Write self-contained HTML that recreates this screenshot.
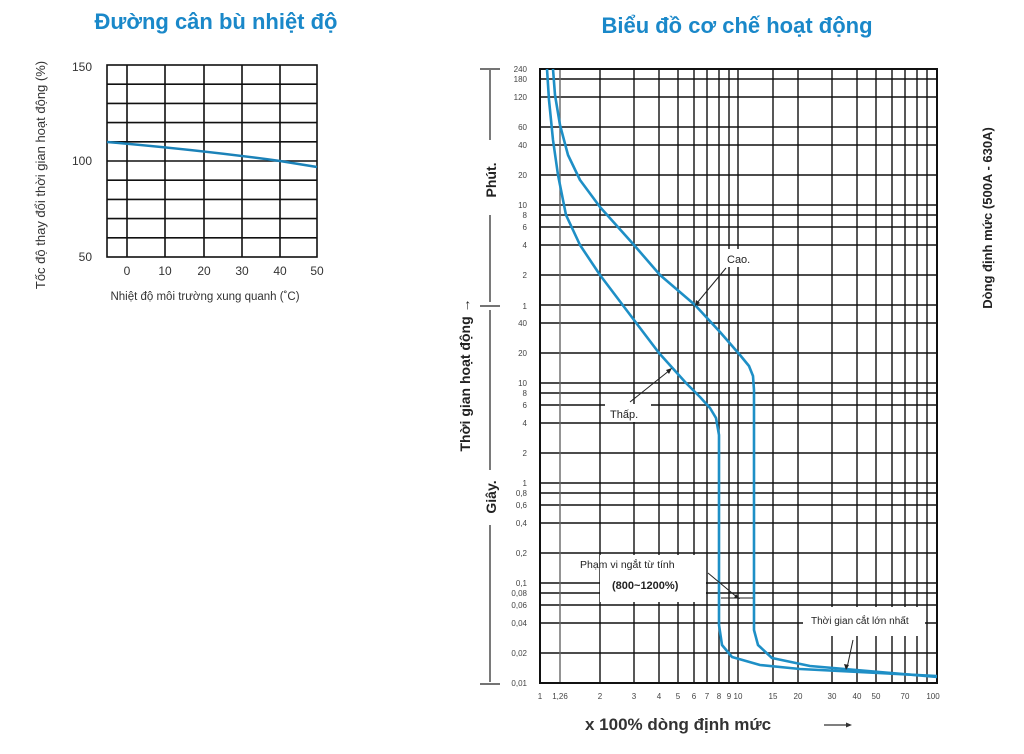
<!DOCTYPE html>
<html><head><meta charset="utf-8"><style>
body{margin:0;background:#fff;}
svg{display:block;font-family:"Liberation Sans",sans-serif;}
</style></head><body>
<svg width="1024" height="754" viewBox="0 0 1024 754" xmlns="http://www.w3.org/2000/svg">
<text x="216" y="29" font-size="22" font-weight="bold" fill="#1a88c9" text-anchor="middle">Đường cân bù nhiệt độ</text>
<text x="737" y="33" font-size="22" font-weight="bold" fill="#1a88c9" text-anchor="middle">Biểu đồ cơ chế hoạt động</text>

<g stroke="#111" stroke-width="1.6" fill="none">
<rect x="107" y="65" width="210" height="192"/>
<path d="M127 65V257M165 65V257M204 65V257M242 65V257M280 65V257"/>
<path d="M107 84.2H317M107 103.4H317M107 122.6H317M107 141.8H317M107 161H317M107 180.2H317M107 199.4H317M107 218.6H317M107 237.8H317"/>
</g>
<path d="M107 142 Q200 150 280 161 L317 167" stroke="#1b82b8" stroke-width="2.5" fill="none"/>
<g font-size="12" fill="#333" text-anchor="end">
<text x="92" y="71">150</text><text x="92" y="165">100</text><text x="92" y="261">50</text>
</g>
<g font-size="12" fill="#333" text-anchor="middle">
<text x="127" y="275">0</text><text x="165" y="275">10</text><text x="204" y="275">20</text><text x="242" y="275">30</text><text x="280" y="275">40</text><text x="317" y="275">50</text>
</g>
<text x="205" y="300" font-size="11.5" fill="#333" text-anchor="middle">Nhiệt độ môi trường xung quanh (˚C)</text>
<text transform="translate(45,175) rotate(-90)" font-size="13" fill="#333" text-anchor="middle">Tốc độ thay đổi thời gian hoạt động (%)</text>

<g stroke="#111" stroke-width="1.4" fill="none">
<path d="M540 683H937M540 653H937M540 623H937M540 605H937M540 593H937M540 583H937M540 553H937M540 523H937M540 505H937M540 493H937M540 483H937M540 453H937M540 423H937M540 405H937M540 393H937M540 383H937M540 353H937M540 323H937M540 305H937M540 275H937M540 245H937M540 227H937M540 215H937M540 205H937M540 175H937M540 145H937M540 127H937M540 97H937M540 79H937"/>
<path d="M600 69V683M634 69V683M659 69V683M678 69V683M694 69V683M707 69V683M719 69V683M729 69V683M738 69V683M773 69V683M798 69V683M832 69V683M857 69V683M876 69V683M892 69V683M905 69V683M917 69V683M927 69V683"/>
<path d="M560 69V683" stroke="#666"/>
<rect x="540" y="69" width="397" height="614" stroke-width="2"/>
</g>
<rect x="600" y="555" width="106" height="47" fill="#fff"/>
<rect x="803" y="607" width="122" height="29" fill="#fff"/>
<rect x="605" y="404" width="46" height="18" fill="#fff"/>
<rect x="722" y="249" width="40" height="18" fill="#fff"/>

<g stroke="#1e8fc6" stroke-width="2.6" fill="none" stroke-linejoin="round">
<polyline points="547,69 549,100 553,140 558,175 566,215 580,245 600,275 634,320 659,353 686,383 700,397 710,408 716,418 719,435 719,625 722,645 732,657 760,665 800,669 937,676"/>
<polyline points="553,69 555,95 560,125 568,155 580,180 600,207 634,245 660,275 695,305 720,332 740,355 749,366 753,376 754,390 754,630 758,645 772,658 810,666 937,677"/>
</g>

<g font-size="11" fill="#222">
<text x="727" y="263">Cao.</text>
<text x="610" y="418">Thấp.</text>
<text x="580" y="568" font-size="10.5">Phạm vi ngắt từ tính</text>
<text x="612" y="589" font-size="11" font-weight="bold">(800~1200%)</text>
<text x="811" y="624" font-size="10">Thời gian cắt lớn nhất</text>
</g>
<g stroke="#222" stroke-width="1" fill="none">
<path d="M726 268L697 303"/><path d="M630 402L670 370"/>
<path d="M708 573L738 598"/><path d="M721 598H753"/>
<path d="M853 640L847 668"/>
</g>
<g fill="#222">
<path d="M695 306l1-6 4 3z"/><path d="M672 368l-6 2 3 4z"/><path d="M740 599l-6-1 2-4z"/><path d="M846 670l-2-6 5 1z"/>
</g>

<g font-size="8" fill="#444" text-anchor="end">
<text x="527" y="72">240</text><text x="527" y="82">180</text><text x="527" y="100">120</text><text x="527" y="130">60</text><text x="527" y="148">40</text><text x="527" y="178">20</text><text x="527" y="208">10</text><text x="527" y="218">8</text><text x="527" y="230">6</text><text x="527" y="248">4</text><text x="527" y="278">2</text><text x="527" y="309">1</text>
<text x="527" y="326">40</text><text x="527" y="356">20</text><text x="527" y="386">10</text><text x="527" y="396">8</text><text x="527" y="408">6</text><text x="527" y="426">4</text><text x="527" y="456">2</text><text x="527" y="486">1</text><text x="527" y="496">0,8</text><text x="527" y="508">0,6</text><text x="527" y="526">0,4</text><text x="527" y="556">0,2</text><text x="527" y="586">0,1</text><text x="527" y="596">0,08</text><text x="527" y="608">0,06</text><text x="527" y="626">0,04</text><text x="527" y="656">0,02</text><text x="527" y="686">0,01</text>
</g>
<g font-size="8" fill="#444" text-anchor="middle">
<text x="540" y="699">1</text><text x="560" y="699">1,26</text><text x="600" y="699">2</text><text x="634" y="699">3</text><text x="659" y="699">4</text><text x="678" y="699">5</text><text x="694" y="699">6</text><text x="707" y="699">7</text><text x="719" y="699">8</text><text x="729" y="699">9</text><text x="738" y="699">10</text><text x="773" y="699">15</text><text x="798" y="699">20</text><text x="832" y="699">30</text><text x="857" y="699">40</text><text x="876" y="699">50</text><text x="905" y="699">70</text><text x="933" y="699">100</text>
</g>
<text x="585" y="730" font-size="17" font-weight="bold" fill="#333">x 100% dòng định mức</text>
<path d="M824 725H850" stroke="#333" stroke-width="1.3"/><path d="M852 725l-6-2.5v5z" fill="#333"/>

<g stroke="#222" stroke-width="1.2" fill="none">
<path d="M480 69H500M480 306H500M480 684H500"/>
<path d="M490 70V140M490 215V302M490 310V470M490 525V682"/>
</g>
<text transform="translate(496,180) rotate(-90)" font-size="14" font-weight="bold" fill="#222" text-anchor="middle">Phút.</text>
<text transform="translate(496,497) rotate(-90)" font-size="14" font-weight="bold" fill="#222" text-anchor="middle">Giây.</text>
<text transform="translate(470,375) rotate(-90)" font-size="14" font-weight="bold" fill="#222" text-anchor="middle">Thời gian hoạt động →</text>

<text transform="translate(992,218) rotate(-90)" font-size="13" font-weight="bold" fill="#222" text-anchor="middle">Dòng định mức (500A - 630A)</text>
</svg>
</body></html>
